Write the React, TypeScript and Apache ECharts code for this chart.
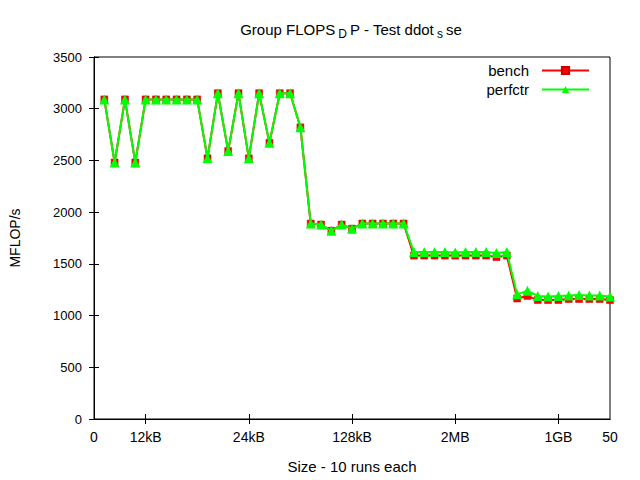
import React, { useEffect, useRef } from "react";
import * as echarts from "echarts";

const xIndex: number[] = Array.from({ length: 50 }, (_, i) => i + 1);

const bench: number[] = [
  3090, 2480, 3090, 2480, 3090, 3090, 3090, 3090, 3090, 3090,
  2520, 3150, 2590, 3150, 2520, 3150, 2670, 3150, 3150, 2820,
  1890, 1880, 1820, 1880, 1840, 1890, 1890, 1890, 1890, 1890,
  1580, 1580, 1580, 1580, 1580, 1580, 1580, 1580, 1565, 1580,
  1165, 1190, 1150, 1150, 1150, 1160, 1160, 1160, 1160, 1150,
];

const perfctr: number[] = [
  3090, 2480, 3090, 2480, 3090, 3090, 3090, 3090, 3090, 3090,
  2520, 3150, 2590, 3150, 2520, 3150, 2670, 3150, 3150, 2820,
  1890, 1880, 1820, 1880, 1840, 1890, 1890, 1890, 1890, 1890,
  1615, 1615, 1615, 1615, 1610, 1615, 1615, 1615, 1605, 1615,
  1205, 1240, 1190, 1185, 1190, 1195, 1200, 1195, 1195, 1185,
];

const tickValues: number[] = [5, 15, 25, 35, 45];
const labelValues: number[] = [0, 5, 15, 25, 35, 45, 50];
const tickLabels: Record<number, string> = {
  0: "0",
  5: "12kB",
  15: "24kB",
  25: "128kB",
  35: "2MB",
  45: "1GB",
  50: "50",
};

const FONT = "Liberation Sans";

export default function App() {
  const ref = useRef<HTMLDivElement>(null);
  useEffect(() => {
    document.body.style.margin = "0";
    const chart = echarts.init(ref.current!, null, { renderer: "svg" });
    const axisCommon = {
      axisLine: { show: true, lineStyle: { color: "#000", width: 1 } },
      splitLine: { show: false },
    };
    chart.setOption({
      animation: false,
      backgroundColor: "#fff",
      textStyle: { fontFamily: FONT },
      title: {
        text: "Group FLOPS{sub|D}P - Test ddot{sub|s}se",
        left: 346,
        top: 14,
        textAlign: "center",
        textStyle: {
          fontFamily: FONT,
          fontSize: 15,
          fontWeight: "normal",
          color: "#000",
          rich: {
            sub: {
              fontFamily: FONT,
              fontSize: 12,
              color: "#000",
              verticalAlign: "top",
              padding: [9, 3, 0, 3],
            },
          },
        },
      },
      legend: {
        right: 50,
        top: 63,
        padding: 0,
        orient: "vertical",
        align: "right",
        itemWidth: 47,
        itemHeight: 9,
        itemGap: 4,
        textStyle: {
          fontFamily: FONT,
          fontSize: 15,
          color: "#000",
          padding: [0, 8, 0, 0],
        },
        data: ["bench", "perfctr"],
      },
      grid: {
        left: 94,
        right: 30,
        top: 57,
        bottom: 61,
        show: true,
        borderColor: "#000",
        borderWidth: 1,
        containLabel: false,
      },
      xAxis: [
        {
          type: "value",
          min: 0,
          max: 50,
          interval: 5,
          name: "Size - 10 runs each",
          nameLocation: "middle",
          nameGap: 40,
          nameTextStyle: { fontFamily: FONT, fontSize: 15, color: "#000" },
          ...axisCommon,
          axisTick: {
            show: true,
            inside: true,
            length: 5,
            customValues: tickValues,
            lineStyle: { color: "#000" },
          },
          axisLabel: {
            color: "#000",
            fontFamily: FONT,
            fontSize: 14,
            margin: 11,
            customValues: labelValues,
            formatter: (v: number) => tickLabels[v] ?? "",
          },
        },
        {
          type: "value",
          position: "top",
          min: 0,
          max: 50,
          interval: 5,
          ...axisCommon,
          axisTick: {
            show: true,
            inside: true,
            length: 5,
            customValues: tickValues,
            lineStyle: { color: "#000" },
          },
          axisLabel: { show: false },
        },
      ],
      yAxis: [
        {
          type: "value",
          min: 0,
          max: 3500,
          interval: 500,
          name: "MFLOP/s",
          nameLocation: "middle",
          nameGap: 72,
          nameTextStyle: { fontFamily: FONT, fontSize: 14, color: "#000" },
          ...axisCommon,
          axisTick: { show: true, inside: true, length: 5, lineStyle: { color: "#000" } },
          axisLabel: {
            color: "#000",
            fontFamily: FONT,
            fontSize: 13,
            margin: 12,
            formatter: (v: number) => String(v),
          },
        },
        {
          type: "value",
          position: "right",
          min: 0,
          max: 3500,
          interval: 500,
          ...axisCommon,
          axisTick: { show: true, inside: true, length: 5, lineStyle: { color: "#000" } },
          axisLabel: { show: false },
        },
      ],
      series: [
        {
          name: "bench",
          type: "line",
          xAxisIndex: 0,
          yAxisIndex: 0,
          data: xIndex.map((x, i) => [x, bench[i]]),
          symbol: "rect",
          symbolSize: 7,
          lineStyle: { color: "#ff0000", width: 2 },
          itemStyle: { color: "#ff0000", borderColor: "#cc0000", borderWidth: 0.5 },
          z: 2,
        },
        {
          name: "perfctr",
          type: "line",
          xAxisIndex: 0,
          yAxisIndex: 0,
          data: xIndex.map((x, i) => [x, perfctr[i]]),
          symbol: "triangle",
          symbolSize: 10,
          lineStyle: { color: "#00ff00", width: 2 },
          itemStyle: { color: "#00ff00" },
          z: 3,
        },
      ],
    });
    return () => chart.dispose();
  }, []);
  return (
    <div
      ref={ref}
      style={{ position: "fixed", left: 0, top: 0, width: 640, height: 480 }}
    />
  );
}
